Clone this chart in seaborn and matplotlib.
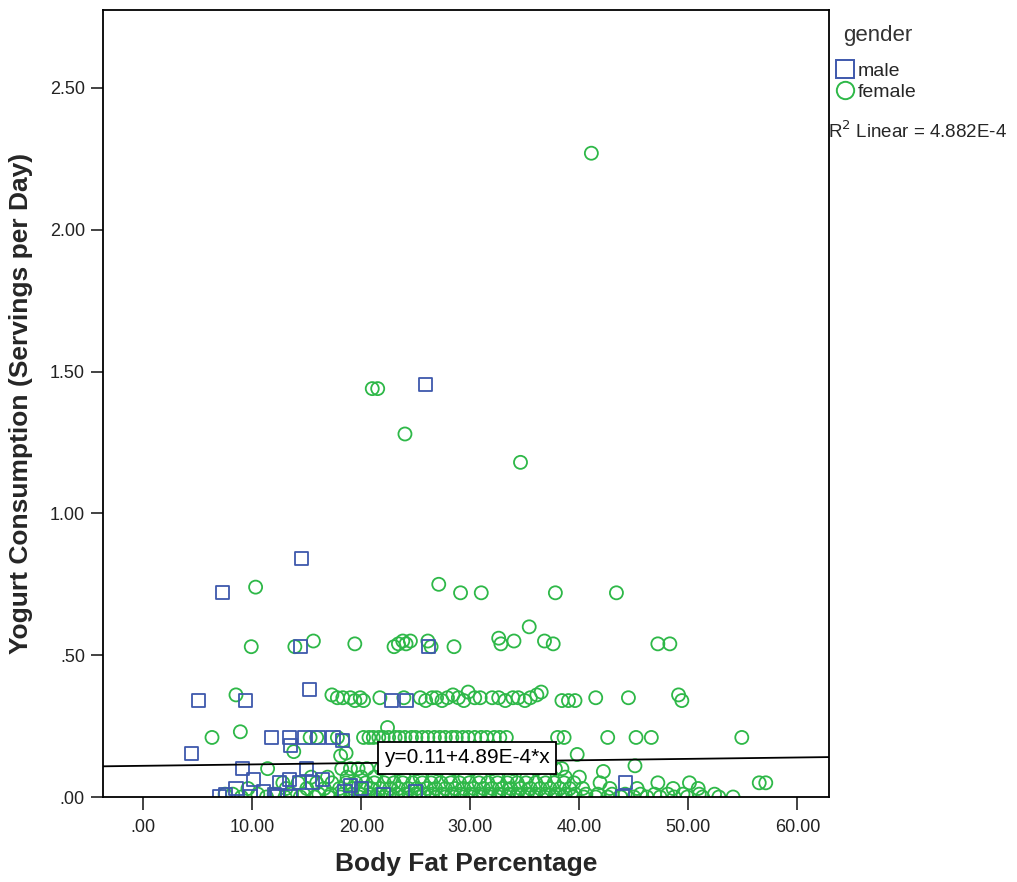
import matplotlib
matplotlib.use("Agg")
import matplotlib.pyplot as plt
from matplotlib.lines import Line2D
import seaborn as sns
import pandas as pd

# ---------------- data ----------------
# male (blue squares)
male_bf = [25.9, 14.5, 7.25, 14.4, 26.2, 5.1, 9.4, 15.2, 22.8, 24.1,
           11.8, 13.4, 14.8, 16.1, 17.4, 18.3, 13.5, 4.4, 9.1, 15.0,
           10.1, 12.5, 13.4, 14.3, 15.5, 16.4, 8.5, 11.0, 12.0, 7.5,
           18.5, 19.0, 20.0, 22.0, 25.0, 44.2, 44.0, 7.0, 9.8, 12.3, 13.5]
male_yog = [1.455, 0.84, 0.72, 0.53, 0.53, 0.34, 0.34, 0.38, 0.34, 0.34,
            0.21, 0.21, 0.21, 0.21, 0.21, 0.20, 0.18, 0.155, 0.10, 0.10,
            0.06, 0.05, 0.06, 0.05, 0.05, 0.06, 0.03, 0.02, 0.01, 0.01,
            0.02, 0.04, 0.03, 0.01, 0.02, 0.05, 0.0, 0.0, 0.0, 0.0, 0.0]

# female (green circles) - scattered points
fem_pts_bf = [41.1, 21.0, 21.5, 24.0, 34.6, 10.3, 27.1, 29.1, 31.0, 37.8, 43.4,
              9.9, 13.9, 15.6, 19.4, 23.0, 23.4, 23.8, 24.1, 24.5, 26.1, 26.4,
              28.5, 32.6, 32.8, 34.0, 35.4, 36.8, 37.6, 47.2, 48.3,
              8.9, 18.3, 22.4, 13.8, 18.1, 18.6, 39.8, 45.1, 42.2]
fem_pts_yog = [2.27, 1.44, 1.44, 1.28, 1.18, 0.74, 0.75, 0.72, 0.72, 0.72, 0.72,
               0.53, 0.53, 0.55, 0.54, 0.53, 0.54, 0.55, 0.54, 0.55, 0.55, 0.53,
               0.53, 0.56, 0.54, 0.55, 0.60, 0.55, 0.54, 0.54, 0.54,
               0.23, 0.20, 0.245, 0.16, 0.145, 0.155, 0.15, 0.11, 0.09]

# female rows at common serving levels
fem_r37_bf = [29.8, 36.5]
fem_r36_bf = [8.5, 17.3, 28.4, 36.1, 49.1]
fem_r35_bf = [17.8, 18.3, 19.0, 19.9, 21.7, 23.9, 25.4, 26.5, 26.9, 27.9, 28.9,
              30.4, 30.9, 32.0, 32.6, 33.9, 34.4, 35.5, 41.5, 44.5]
fem_r34_bf = [19.4, 20.2, 25.9, 27.4, 29.4, 33.2, 35.0, 38.4, 39.0, 39.6, 49.4]
fem_r21_bf = [6.3, 15.3, 15.9, 17.8, 20.2, 20.7, 21.1, 21.6, 22.0, 22.5, 23.1,
              23.5, 24.0, 24.6, 25.0, 25.6, 26.1, 26.7, 27.2, 27.7, 28.3, 28.7,
              29.3, 29.8, 30.4, 31.0, 31.5, 32.2, 32.7, 33.3, 38.0, 38.6, 42.6,
              45.2, 46.6, 54.9]
fem_r10_bf = [11.4, 18.2, 19.0, 19.7, 20.5, 21.8, 23.4, 25.1, 26.9, 28.5, 30.2,
              32.0, 33.9, 36.1, 37.8, 38.4]
fem_r07_bf = [15.4, 16.9, 18.7, 20.0, 21.2, 22.5, 23.9, 25.4, 26.7, 28.0, 29.5,
              30.9, 32.4, 33.7, 35.2, 36.8, 38.7, 40.0]
fem_r05_bf = [12.8, 14.2, 15.9, 17.3, 18.6, 19.5, 20.4, 21.2, 22.1, 23.0, 23.8,
              24.7, 25.6, 26.4, 27.3, 28.2, 29.0, 29.9, 30.8, 31.6, 32.5, 33.4,
              34.3, 35.1, 36.0, 36.9, 37.7, 38.6, 39.5, 41.9, 47.2, 50.1, 56.5, 57.1]
fem_r03_bf = [9.6, 13.1, 15.0, 16.6, 18.0, 19.2, 20.0, 20.9, 21.7, 22.6, 23.4,
              24.3, 25.1, 26.0, 26.8, 27.7, 28.6, 29.4, 30.3, 31.2, 32.0, 32.9,
              33.7, 34.6, 35.5, 36.4, 37.3, 38.2, 39.1, 40.3, 42.8, 45.3, 48.6, 50.9]
fem_r01_bf = [7.5, 8.2, 10.5, 12.0, 13.6, 14.7, 16.1, 17.2, 18.3, 19.1, 19.9,
              20.8, 21.5, 22.3, 23.2, 24.0, 24.9, 25.7, 26.5, 27.4, 28.3, 29.1,
              30.0, 30.8, 31.7, 32.6, 33.5, 34.3, 35.2, 36.0, 36.9, 37.8, 38.7,
              39.6, 40.6, 41.7, 43.0, 44.2, 45.6, 46.9, 48.1, 49.5, 51.0, 52.4]
fem_r00_bf = [9.0, 11.3, 13.0, 14.4, 15.7, 17.0, 18.1, 19.0, 19.8, 20.6, 21.3,
              22.1, 22.9, 23.7, 24.5, 25.3, 26.1, 26.9, 27.7, 28.5, 29.3, 30.1,
              30.9, 31.8, 32.6, 33.4, 34.2, 35.0, 35.9, 36.8, 37.7, 38.5, 39.4,
              40.4, 41.5, 42.6, 43.8, 45.0, 46.2, 47.4, 48.7, 49.9, 51.3, 52.8, 54.1]
fem_levels = [0.37, 0.36, 0.35, 0.34, 0.21, 0.10, 0.07, 0.05, 0.03, 0.01, 0.0]

# fit line (SPSS output)
fit_intercept = 0.11
fit_slope = 4.89e-4
fit_label = "y=0.11+4.89E-4*x"
r2_label = "R$^2$ Linear = 4.882E-4"

x_ticks = [0, 10, 20, 30, 40, 50, 60]
y_ticks = [0.0, 0.5, 1.0, 1.5, 2.0, 2.5]

# ---------------- build tables ----------------
fem_rows = [fem_r37_bf, fem_r36_bf, fem_r35_bf, fem_r34_bf, fem_r21_bf,
            fem_r10_bf, fem_r07_bf, fem_r05_bf, fem_r03_bf, fem_r01_bf, fem_r00_bf]
f_bf = list(fem_pts_bf)
f_yog = list(fem_pts_yog)
for row, lev in zip(fem_rows, fem_levels):
    f_bf += row
    f_yog += [lev] * len(row)
female = pd.DataFrame({"bodyfat": f_bf, "yogurt": f_yog, "gender": "female"})
male = pd.DataFrame({"bodyfat": male_bf, "yogurt": male_yog, "gender": "male"})

# ---------------- plot ----------------
sns.set_theme(style="white")
plt.rcParams["font.family"] = ["Liberation Sans", "DejaVu Sans"]

male_col = "#3E58AC"
fem_col = "#2EB848"

fig = plt.figure(figsize=(10.17, 8.82), dpi=100)
ax = fig.add_axes([103 / 1017, 1 - 797 / 882, (829 - 103) / 1017, (797 - 10) / 882])

sns.scatterplot(data=female, x="bodyfat", y="yogurt", ax=ax, marker="o", s=88,
                facecolor="none", edgecolor=fem_col, linewidth=1.3, legend=False)
sns.scatterplot(data=male, x="bodyfat", y="yogurt", ax=ax, marker="s", s=88,
                facecolor="none", edgecolor=male_col, linewidth=1.3, legend=False)

ax.axline((0, fit_intercept), slope=fit_slope, color="black", lw=1.3)

ax.set_xlim(-3.7, 62.9)
ax.set_ylim(0, 2.775)
ax.set_xticks(x_ticks)
ax.set_yticks(y_ticks)


def fmt(v):
    s = f"{v:.2f}"
    return s[1:] if s.startswith("0") else s


ax.set_xticklabels([fmt(v) for v in x_ticks])
ax.set_yticklabels([fmt(v) for v in y_ticks])
ax.tick_params(axis="both", direction="out", length=9, width=1.2, colors="#222222",
               labelsize=13, bottom=True, left=True)
ax.tick_params(axis="x", pad=7)
ax.tick_params(axis="y", pad=4)
for sp in ax.spines.values():
    sp.set_color("black")
    sp.set_linewidth(1.3)

ax.set_xlabel("Body Fat Percentage", fontsize=19, fontweight="bold", labelpad=11)
ax.set_ylabel("Yogurt Consumption (Servings per Day)", fontsize=19,
              fontweight="bold", labelpad=12)

ax.text(29.7, 0.138, fit_label, ha="center", va="center", fontsize=15,
        color="black", zorder=5,
        bbox=dict(boxstyle="square,pad=0.3", fc="white", ec="black", lw=1.3))

handles = [Line2D([], [], marker="s", ls="", mfc="none", mec=male_col, ms=12.5, mew=1.4),
           Line2D([], [], marker="o", ls="", mfc="none", mec=fem_col, ms=12.5, mew=1.4)]
fig.text(843 / 1017, 1 - 35 / 882, "gender", fontsize=16, color="#333333",
         va="center", ha="left")
fig.legend(handles, ["male", "female"], loc="upper left",
           bbox_to_anchor=(836 / 1017, 1 - 62 / 882), frameon=False,
           fontsize=14, handlelength=0.9, handletextpad=0.2,
           labelspacing=0.2, borderaxespad=0, borderpad=0)
fig.text(828 / 1017, 1 - 131 / 882, r2_label, fontsize=13.5, va="center", ha="left")

fig.savefig("out.png", dpi=100)
